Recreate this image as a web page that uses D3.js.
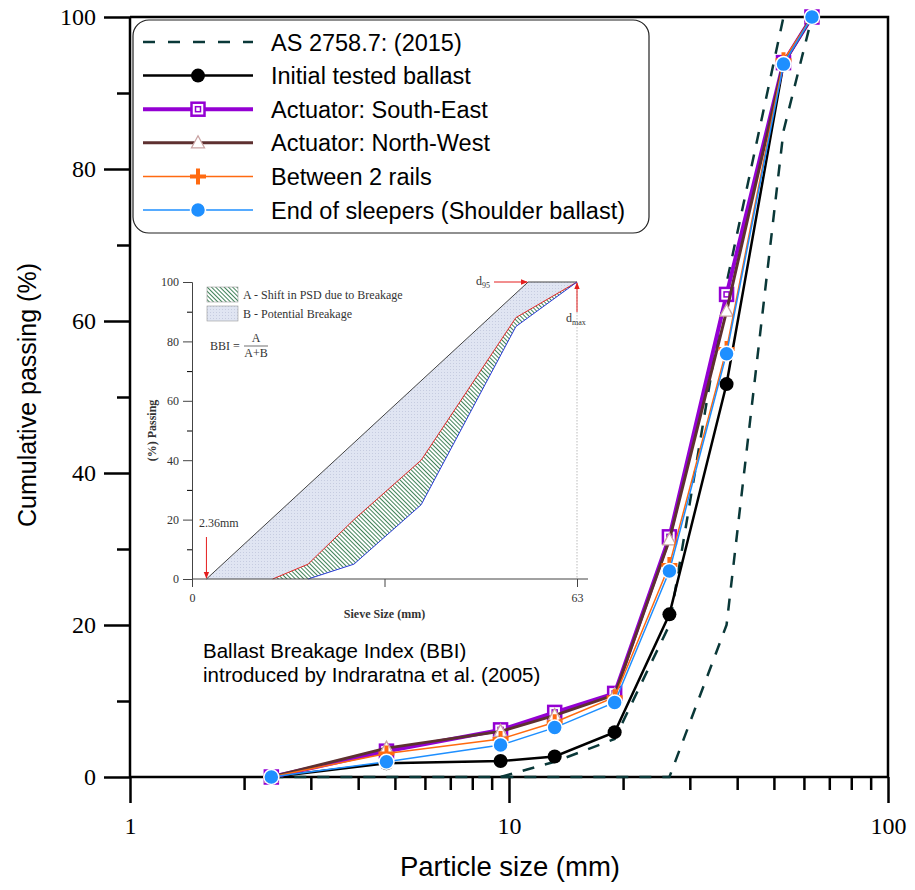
<!DOCTYPE html>
<html lang="en">
<head>
<meta charset="UTF-8">
<title>Cumulative passing vs particle size</title>
<script src="https://d3js.org/d3.v7.min.js"></script>
<style>
    body { margin: 0; background: #ffffff; }
    svg { display: block; }
    .tick-label { font-family: "Liberation Serif", "Times New Roman", serif; font-size: 24px; fill: #000; }
    .axis-title { font-family: "Liberation Sans", Arial, sans-serif; font-size: 25px; fill: #000; }
    .legend-text { font-family: "Liberation Sans", Arial, sans-serif; font-size: 23.5px; fill: #000; }
    .note { font-family: "Liberation Sans", Arial, sans-serif; font-size: 20.5px; fill: #000; }
    .inset-text { font-family: "Liberation Serif", "Times New Roman", serif; font-size: 12px; fill: #333; }
</style>
</head>
<body>
<svg id="chart" width="915" height="890"></svg>
<script>
    // sieve sizes (mm) and passing (%) for each sample
    const sieve = [2.36, 4.75, 9.5, 13.2, 19, 26.5, 37.5, 53, 63];
    const initialBallast = [0, 1.8, 2.1, 2.7, 5.9, 21.4, 51.7, 93.8, 100];
    const southEast = [0, 3.4, 6.2, 8.5, 11.0, 31.6, 63.5, 94.0, 100];
    const northWest = [0, 3.8, 6.0, 8.1, 10.8, 31.2, 61.3, 94.0, 100];
    const between2Rails = [0, 3.1, 5.0, 7.2, 10.5, 27.9, 56.3, 94.3, 100];
    const shoulder = [0, 2.0, 4.2, 6.5, 9.8, 27.1, 55.7, 93.8, 100];

    // AS 2758.7 (2015) grading envelope
    const asLowerSieve = [2.36, 4.75, 9.5, 13.2, 19, 26.5, 37.5, 53, 63];
    const asLower = [0, 0, 0, 0, 0, 0, 20, 85, 100];
    const asUpperSieve = [9.5, 13.2, 19, 26.5, 37.5, 53];
    const asUpper = [0, 2, 5, 20, 65, 100];

    const yTicks = [0, 20, 40, 60, 80, 100];
    const yMinor = [10, 30, 50, 70, 90];
    const xTicks = [1, 10, 100];
    const xMinor = [2, 3, 4, 5, 6, 7, 8, 9, 20, 30, 40, 50, 60, 70, 80, 90];

    // inset (BBI definition sketch)
    const insetLimitX = [2.36, 55, 63];
    const insetLimitY = [0, 100, 100];
    const insetInitialX = [13.2, 19, 26.5, 37.5, 53, 63];
    const insetInitialY = [0, 5, 20, 40, 88, 100];
    const insetAfterX = [19, 26.5, 37.5, 53, 63];
    const insetAfterY = [0, 5, 25, 85, 100];
    const insetYTicks = [0, 20, 40, 60, 80, 100];
    const insetYMinor = [10, 30, 50, 70, 90];

    const svg = d3.select("#chart");
    const x = d3.scaleLog().domain([1, 100]).range([130, 888]);
    const y = d3.scaleLinear().domain([0, 100]).range([777, 17]);

    const defs = svg.append("defs");
    const hatch = defs.append("pattern")
        .attr("id", "hatchA")
        .attr("width", 3).attr("height", 3)
        .attr("patternUnits", "userSpaceOnUse")
        .attr("patternTransform", "rotate(-45)");
    hatch.append("rect").attr("width", 3).attr("height", 3).attr("fill", "#ffffff");
    hatch.append("line").attr("x1", 0).attr("y1", 0).attr("x2", 0).attr("y2", 3)
        .attr("stroke", "#2a7445").attr("stroke-width", 1.8);
    const dots = defs.append("pattern")
        .attr("id", "dotsB")
        .attr("width", 3).attr("height", 3)
        .attr("patternUnits", "userSpaceOnUse");
    dots.append("rect").attr("width", 3).attr("height", 3).attr("fill", "#e0e5f2");
    dots.append("rect").attr("width", 1).attr("height", 1).attr("fill", "#c6cce0");
    defs.append("marker")
        .attr("id", "arrowRed")
        .attr("viewBox", "0 0 10 10")
        .attr("refX", 9).attr("refY", 5)
        .attr("markerWidth", 7).attr("markerHeight", 7)
        .attr("orient", "auto")
        .append("path").attr("d", "M0,1 L10,5 L0,9 Z").attr("fill", "#e41e1e");

    // ---------- inset ----------
    const ix = d3.scaleLinear().domain([0, 63]).range([192, 577]);
    const iy = d3.scaleLinear().domain([0, 100]).range([579, 282]);
    const inset = svg.append("g");
    const ipts = (xs, ys) => xs.map((v, i) => [ix(v), iy(ys[i])]);

    const limitPts = ipts(insetLimitX, insetLimitY);
    const initPts = ipts(insetInitialX, insetInitialY);
    const afterPts = ipts(insetAfterX, insetAfterY);

    inset.append("path")
        .attr("d", d3.line()(limitPts.concat(initPts.slice().reverse())) + "Z")
        .attr("fill", "url(#dotsB)");
    inset.append("path")
        .attr("d", d3.line()(initPts.concat(afterPts.slice().reverse())) + "Z")
        .attr("fill", "url(#hatchA)");

    inset.append("line")
        .attr("x1", ix(63)).attr("x2", ix(63))
        .attr("y1", iy(100)).attr("y2", iy(0))
        .attr("stroke", "#aaa").attr("stroke-width", 0.8).attr("stroke-dasharray", "1.5,1.5");

    inset.append("path").attr("d", d3.line()(limitPts))
        .attr("fill", "none").attr("stroke", "#444").attr("stroke-width", 1);
    inset.append("path").attr("d", d3.line()(initPts))
        .attr("fill", "none").attr("stroke", "#e02626").attr("stroke-width", 1);
    inset.append("path").attr("d", d3.line()(afterPts))
        .attr("fill", "none").attr("stroke", "#2a3bd8").attr("stroke-width", 1);

    const iyAxis = inset.append("g").attr("transform", `translate(${ix(0)},0)`)
        .call(d3.axisLeft(iy).tickValues(insetYTicks).tickSize(9).tickPadding(4));
    inset.append("g").attr("transform", `translate(${ix(0)},0)`)
        .call(d3.axisLeft(iy).tickValues(insetYMinor).tickSize(5).tickFormat(""))
        .select(".domain").remove();
    const ixAxis = inset.append("g").attr("transform", `translate(0,${iy(0)})`)
        .call(d3.axisBottom(ix).tickValues([0, 31.5, 63]).tickSize(8).tickPadding(6)
            .tickFormat(d => d === 31.5 ? "" : d));
    ixAxis.select(".domain").attr("d", `M${ix(0)},0H${ix(63) + 11}`);
    [iyAxis, ixAxis].forEach(a => {
        a.selectAll(".domain, .tick line").attr("stroke", "#444");
        a.selectAll("text").attr("class", "inset-text").attr("font-size", null).attr("font-family", null);
    });

    inset.append("text").attr("class", "inset-text")
        .attr("transform", `translate(156,${iy(50)}) rotate(-90)`)
        .attr("text-anchor", "middle").attr("font-weight", "bold")
        .text("(%) Passing");
    inset.append("text").attr("class", "inset-text")
        .attr("x", ix(31.5)).attr("y", 618)
        .attr("text-anchor", "middle").attr("font-weight", "bold")
        .text("Sieve Size (mm)");

    // inset legend
    inset.append("rect").attr("x", 207).attr("y", 287).attr("width", 31).attr("height", 15)
        .attr("fill", "url(#hatchA)").attr("stroke", "#999").attr("stroke-width", 0.6);
    inset.append("rect").attr("x", 207).attr("y", 306).attr("width", 31).attr("height", 15)
        .attr("fill", "url(#dotsB)").attr("stroke", "#999").attr("stroke-width", 0.6);
    inset.append("text").attr("class", "inset-text").attr("x", 243).attr("y", 299)
        .text("A - Shift in PSD due to Breakage");
    inset.append("text").attr("class", "inset-text").attr("x", 243).attr("y", 318)
        .text("B - Potential Breakage");

    // BBI formula
    inset.append("text").attr("class", "inset-text").attr("x", 210).attr("y", 350).text("BBI =");
    inset.append("text").attr("class", "inset-text").attr("x", 256).attr("y", 342)
        .attr("text-anchor", "middle").text("A");
    inset.append("line").attr("x1", 244).attr("x2", 268).attr("y1", 346).attr("y2", 346)
        .attr("stroke", "#333").attr("stroke-width", 0.7);
    inset.append("text").attr("class", "inset-text").attr("x", 256).attr("y", 357)
        .attr("text-anchor", "middle").text("A+B");

    // annotations with red arrows
    const d95 = inset.append("text").attr("class", "inset-text").attr("x", 476).attr("y", 285);
    d95.append("tspan").text("d");
    d95.append("tspan").attr("font-size", "8px").attr("dy", 3).text("95");
    inset.append("line").attr("x1", 494).attr("y1", iy(100)).attr("x2", ix(insetLimitX[1]) - 1).attr("y2", iy(100))
        .attr("stroke", "#e41e1e").attr("stroke-width", 1).attr("marker-end", "url(#arrowRed)");
    const dmax = inset.append("text").attr("class", "inset-text").attr("x", 566).attr("y", 322);
    dmax.append("tspan").text("d");
    dmax.append("tspan").attr("font-size", "8px").attr("dy", 3).text("max");
    inset.append("line").attr("x1", ix(63)).attr("y1", 312).attr("x2", ix(63)).attr("y2", iy(100) + 1)
        .attr("stroke", "#e41e1e").attr("stroke-width", 1).attr("marker-end", "url(#arrowRed)");
    inset.append("text").attr("class", "inset-text").attr("x", 199).attr("y", 527).text("2.36mm");
    inset.append("line").attr("x1", ix(2.36)).attr("y1", 537).attr("x2", ix(2.36)).attr("y2", iy(0) - 1)
        .attr("stroke", "#e41e1e").attr("stroke-width", 1).attr("marker-end", "url(#arrowRed)");

    svg.append("text").attr("class", "note").attr("x", 203).attr("y", 658)
        .text("Ballast Breakage Index (BBI)");
    svg.append("text").attr("class", "note").attr("x", 203).attr("y", 682)
        .text("introduced by Indraratna et al. (2005)");

    // ---------- main axes ----------
    const yAxis = svg.append("g").attr("transform", "translate(130,0)")
        .call(d3.axisLeft(y).tickValues(yTicks).tickSize(26).tickPadding(8));
    svg.append("g").attr("transform", "translate(130,0)")
        .call(d3.axisLeft(y).tickValues(yMinor).tickSize(13).tickFormat(""))
        .select(".domain").remove();
    const xAxis = svg.append("g").attr("transform", "translate(0,777)")
        .call(d3.axisBottom(x).tickValues(xTicks).tickSize(26).tickPadding(14).tickFormat(d3.format("d")));
    svg.append("g").attr("transform", "translate(0,777)")
        .call(d3.axisBottom(x).tickValues(xMinor).tickSize(13).tickFormat(""))
        .select(".domain").remove();
    svg.selectAll(".domain, .tick line").filter(function () {
        return !inset.node().contains(this);
    }).attr("stroke", "#000").attr("stroke-width", 2.5);
    [yAxis, xAxis].forEach(a => a.selectAll("text")
        .attr("class", "tick-label").attr("font-size", null).attr("font-family", null));
    yAxis.select(".domain").attr("d", "M0,777V17");
    xAxis.select(".domain").attr("d", "M130,0H888");

    // frame top and right
    svg.append("path").attr("d", "M130,17H888V777")
        .attr("fill", "none").attr("stroke", "#000").attr("stroke-width", 2.5);

    svg.append("text").attr("class", "axis-title")
        .attr("x", 510).attr("y", 876).attr("text-anchor", "middle")
        .style("font-size", "27.5px")
        .text("Particle size (mm)");
    svg.append("text").attr("class", "axis-title")
        .attr("transform", "translate(36,395) rotate(-90)")
        .attr("text-anchor", "middle")
        .text("Cumulative passing (%)");

    // ---------- series ----------
    const line = d3.line().x(d => x(d[0])).y(d => y(d[1]));
    const dashColor = "#0a3838";
    svg.append("path").datum(asLowerSieve.map((s, i) => [s, asLower[i]]))
        .attr("d", line).attr("fill", "none").attr("stroke", dashColor)
        .attr("stroke-width", 2.5).attr("stroke-dasharray", "12,11");
    svg.append("path").datum(asUpperSieve.map((s, i) => [s, asUpper[i]]))
        .attr("d", line).attr("fill", "none").attr("stroke", dashColor)
        .attr("stroke-width", 2.5).attr("stroke-dasharray", "12,11");

    function drawMarker(g, kind) {
        if (kind === "dot") {
            g.append("circle").attr("r", 7).attr("fill", "#000");
        } else if (kind === "square") {
            g.append("rect").attr("x", -6.5).attr("y", -6.5).attr("width", 13).attr("height", 13)
                .attr("fill", "#fff").attr("stroke", "#9400d3").attr("stroke-width", 2.5);
            g.append("rect").attr("x", -2.5).attr("y", -2.5).attr("width", 5).attr("height", 5)
                .attr("fill", "none").attr("stroke", "#9400d3").attr("stroke-width", 1.5);
        } else if (kind === "triangle") {
            g.append("path").attr("d", "M0,-7L6.5,5L-6.5,5Z")
                .attr("fill", "#fff").attr("stroke", "#c9a3a3").attr("stroke-width", 1.3);
        } else if (kind === "plus") {
            g.append("path").attr("d", "M-8,0H8M0,-8V8")
                .attr("stroke", "#ff6a10").attr("stroke-width", 4);
        } else if (kind === "blue") {
            g.append("circle").attr("r", 7.5).attr("fill", "#1e8fff")
                .attr("stroke", "#fff").attr("stroke-width", 1.5);
        }
    }

    const series = [
        { name: "Initial tested ballast", values: initialBallast, color: "#000", width: 2.5, marker: "dot" },
        { name: "Actuator: South-East", values: southEast, color: "#9400d3", width: 4, marker: "square" },
        { name: "Actuator: North-West", values: northWest, color: "#5e3030", width: 3, marker: "triangle" },
        { name: "Between 2 rails", values: between2Rails, color: "#ff6a10", width: 1.5, marker: "plus" },
        { name: "End of sleepers (Shoulder ballast)", values: shoulder, color: "#1e8fff", width: 1.5, marker: "blue" }
    ];

    series.forEach(s => {
        const pts = sieve.map((v, i) => [v, s.values[i]]);
        svg.append("path").datum(pts).attr("d", line)
            .attr("fill", "none").attr("stroke", s.color).attr("stroke-width", s.width);
        pts.forEach(p => {
            drawMarker(svg.append("g").attr("transform", `translate(${x(p[0])},${y(p[1])})`), s.marker);
        });
    });

    // ---------- legend ----------
    const legend = svg.append("g");
    legend.append("rect").attr("x", 133).attr("y", 20).attr("width", 516).attr("height", 213)
        .attr("rx", 16).attr("fill", "#fff").attr("stroke", "#222").attr("stroke-width", 1.2);
    const rowY = d3.scaleLinear().domain([0, 5]).range([42, 210]);
    const legendRows = [{ name: "AS 2758.7: (2015)", dash: true }].concat(series);
    legendRows.forEach((r, i) => {
        const ry = rowY(i);
        legend.append("line").attr("x1", 143).attr("x2", 253).attr("y1", ry).attr("y2", ry)
            .attr("stroke", r.dash ? dashColor : r.color)
            .attr("stroke-width", r.dash ? 2.5 : r.width)
            .attr("stroke-dasharray", r.dash ? "12,13" : null);
        if (!r.dash) drawMarker(legend.append("g").attr("transform", `translate(198,${ry})`), r.marker);
        legend.append("text").attr("class", "legend-text")
            .attr("x", 271).attr("y", ry + 8.5).text(r.name);
    });
</script>
</body>
</html>
